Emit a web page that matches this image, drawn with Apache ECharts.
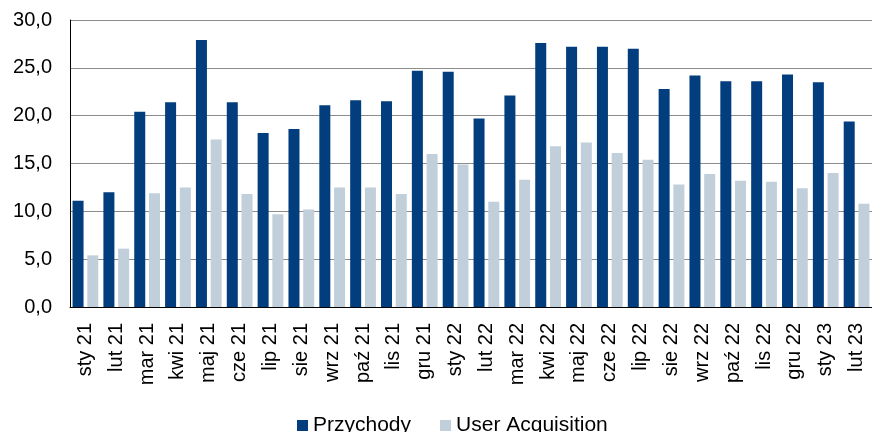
<!DOCTYPE html>
<html>
<head>
<meta charset="utf-8">
<script src="https://cdn.jsdelivr.net/npm/echarts@6/dist/echarts.min.js"></script>
<style>
html, body { margin: 0; padding: 0; background: #fff; }
#chart { width: 872px; height: 432px; }
</style>
</head>
<body>
<div id="chart"></div>
<script>
var months = ['sty 21', 'lut 21', 'mar 21', 'kwi 21', 'maj 21', 'cze 21', 'lip 21', 'sie 21', 'wrz 21', 'paź 21', 'lis 21', 'gru 21',
	'sty 22', 'lut 22', 'mar 22', 'kwi 22', 'maj 22', 'cze 22', 'lip 22', 'sie 22', 'wrz 22', 'paź 22', 'lis 22', 'gru 22',
	'sty 23', 'lut 23'];
var przychody = [11.1, 12.0, 20.4, 21.4, 27.9, 21.4, 18.2, 18.6, 21.1, 21.6, 21.5, 24.7,
	24.6, 19.7, 22.1, 27.6, 27.2, 27.2, 27.0, 22.8, 24.2, 23.6, 23.6, 24.3,
	23.5, 19.4];
var userAcquisition = [5.4, 6.1, 11.9, 12.5, 17.5, 11.8, 9.7, 10.2, 12.5, 12.5, 11.8, 16.0,
	14.9, 11.0, 13.3, 16.8, 17.2, 16.1, 15.4, 12.8, 13.9, 13.2, 13.1, 12.4,
	14.0, 10.8];
var seriesNames = ['Przychody', 'User Acquisition'];
var colors = ['#023e7d', '#c0cfda'];

var chart = echarts.init(document.getElementById('chart'), null, { renderer: 'canvas' });
var font = 'Liberation Sans, Arial, sans-serif';

var option = {
	animation: false,
	color: colors,
	textStyle: { fontFamily: font },
	grid: { left: 70, top: 20, width: 807, height: 287, containLabel: false },
	legend: {
		data: seriesNames,
		left: 292,
		top: 410,
		icon: 'rect',
		itemWidth: 11,
		itemHeight: 11,
		itemGap: 29,
		textStyle: { fontSize: 21, color: '#000', fontFamily: font }
	},
	xAxis: {
		type: 'category',
		data: months,
		axisLine: { lineStyle: { color: '#000', width: 1 } },
		axisTick: { show: false },
		axisLabel: { rotate: 90, margin: 16, fontSize: 20, color: '#000', fontFamily: font, interval: 0 }
	},
	yAxis: {
		type: 'value',
		min: 0,
		max: 30,
		interval: 5,
		axisLine: { show: true, lineStyle: { color: '#000', width: 1 } },
		axisTick: { show: false },
		splitLine: { lineStyle: { color: '#8c8c8c', width: 1 } },
		axisLabel: {
			margin: 18, fontSize: 20, color: '#000', fontFamily: font,
			formatter: function (v) { return v.toFixed(1).replace('.', ','); }
		}
	},
	series: [
		{ name: seriesNames[0], type: 'bar', data: przychody, barWidth: 11, barGap: '34%' },
		{ name: seriesNames[1], type: 'bar', data: userAcquisition, barWidth: 11, barGap: '34%' }
	]
};
chart.setOption(option);
</script>
</body>
</html>
